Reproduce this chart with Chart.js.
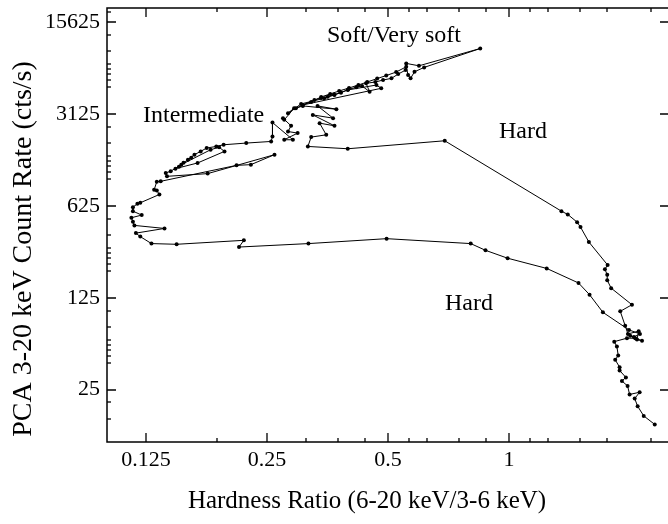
<!DOCTYPE html>
<html>
<head>
<meta charset="utf-8">
<script src="https://cdn.jsdelivr.net/npm/chart.js@4.4.1/dist/chart.umd.min.js"></script>
<style>
html, body { margin: 0; padding: 0; background: #fff; overflow: hidden; }
#hid { display: block; }
</style>
</head>
<body>
<canvas id="hid" width="676" height="524"></canvas>
<script>
// hardness ratio (6-20 keV / 3-6 keV), one value per observation, in time order
var hardness = [
  2.304, 2.163, 2.089, 2.054, 2.113, 1.995, 1.972, 1.909, 1.953, 1.884,
  1.884, 1.837, 1.869, 1.855, 1.827, 1.965, 2.060, 2.002, 2.142, 2.081,
  2.101, 1.976, 1.945, 1.891, 2.022, 1.795, 1.755, 1.755, 1.732, 1.759,
  1.580, 1.506, 1.477, 1.400, 1.350, 0.692, 0.397, 0.316, 0.322, 0.351,
  0.338, 0.368, 0.325, 0.365, 0.334, 0.372, 0.307,
  0.295, 0.328, 0.341, 0.354, 0.367, 0.382, 0.398, 0.417, 0.431, 0.450,
  0.441, 0.465, 0.486, 0.510, 0.530, 0.553, 0.555, 0.597, 0.848, 0.615,
  0.582, 0.569, 0.561, 0.555, 0.524, 0.495, 0.470, 0.444, 0.422, 0.400,
  0.378, 0.359, 0.341, 0.322, 0.307, 0.481, 0.468, 0.397, 0.368, 0.347, 0.304,
  0.282, 0.292, 0.276, 0.274, 0.287, 0.282, 0.298, 0.276, 0.290, 0.258,
  0.258, 0.256, 0.222, 0.195, 0.187, 0.177, 0.171, 0.165, 0.159,
  0.162, 0.155, 0.151, 0.148, 0.168, 0.196, 0.190, 0.181,
  0.153, 0.144, 0.140, 0.141, 0.178, 0.261, 0.228, 0.210, 0.136,
  0.133, 0.131, 0.133, 0.135, 0.121, 0.119, 0.116, 0.116, 0.122, 0.115,
  0.116, 0.117, 0.139, 0.118, 0.121, 0.129, 0.149, 0.219, 0.213, 0.317,
  0.496, 0.803, 0.874, 0.992, 1.241, 1.489, 1.586, 1.712, 1.988, 2.117, 2.045
];

// PCA 3-20 keV count rate (cts/s)
var countRate = [
  13.6, 15.8, 18.7, 21.4, 23.9, 23.0, 26.7, 29.1, 31.0, 35.0,
  37.1, 42.2, 45.5, 53.2, 58.0, 61.6, 61.6, 64.4, 58.8, 60.1,
  69.6, 66.4, 76.7, 98.6, 110.7, 148, 170, 187, 206, 222,
  332, 431, 470, 538, 570, 1955, 1700, 1770, 2085, 2170,
  2662, 2540, 3077, 2905, 3599, 3398, 3599,
  3457, 3996, 4138, 4233, 4398, 4538, 4800, 4987, 5100, 4617,
  5348, 5470, 5663, 5834, 6288, 6741, 7577, 7267, 9838, 7068,
  6545, 5834, 6180, 7143, 6513, 6127, 5813, 5470, 5190, 4927,
  4675, 4438, 4210, 3861, 3662, 4900, 5190, 4757, 4360, 4115, 3727,
  3170, 3457, 2820, 2905, 2540, 2299, 2236, 1990, 1990, 2690,
  2108, 1932, 1878, 1823, 1770, 1722, 1623, 1532, 1404,
  1454, 1332, 1242, 1200, 1325, 1623, 1746, 1671,
  1287, 1145, 1113, 1049, 1100, 1532, 1287, 1271, 961,
  955, 828, 818, 763, 660, 648, 611, 570, 532, 508,
  474, 444, 421, 388, 365, 323, 319, 342, 304, 323,
  352, 323, 287, 250, 209, 162, 132, 96.9, 71.2, 66.4, 63.0
];

var xMajor = [0.125, 0.25, 0.5, 1];
var xTickLabels = ['0.125', '0.25', '0.5', '1'];
var xMinor = [0.1875, 0.3125, 0.375, 0.4375, 0.5625, 0.625, 0.75, 0.875, 1.125, 1.25, 1.5, 1.75, 2.25];

var yMajor = [25, 125, 625, 3125, 15625];
var yTickLabels = ['25', '125', '625', '3125', '15625'];
var yMinor = [18750, 12500, 9375, 7500, 6875, 6250, 5625, 5000,
  2500, 1875, 1500, 1375, 1250, 1125, 1000,
  500, 375, 300, 275, 250, 225, 200,
  100, 75, 60, 55, 50, 45, 40,
  20, 15];

var serif = "'Liberation Serif', 'DejaVu Serif', serif";

var points = hardness.map(function (h, i) {
  return { x: h, y: countRate[i] };
});

// inward tick marks on all sides, plus the closed frame
var frameTicks = {
  id: 'frameTicks',
  afterDraw: function (chart) {
    var ctx = chart.ctx;
    var a = chart.chartArea;
    var xs = chart.scales.x;
    var ys = chart.scales.y;
    ctx.save();
    ctx.strokeStyle = '#000';
    ctx.lineWidth = 1.5;
    ctx.strokeRect(a.left, a.top, a.right - a.left, a.bottom - a.top);
    ctx.lineWidth = 1.3;
    xMajor.concat(xMinor).forEach(function (v) {
      var len = xMajor.indexOf(v) >= 0 ? 9 : 4;
      var px = Math.round(xs.getPixelForValue(v));
      ctx.beginPath();
      ctx.moveTo(px, a.bottom);
      ctx.lineTo(px, a.bottom - len);
      ctx.moveTo(px, a.top);
      ctx.lineTo(px, a.top + len);
      ctx.stroke();
    });
    yMajor.concat(yMinor).forEach(function (v) {
      var major = yMajor.indexOf(v) >= 0;
      var py = Math.round(ys.getPixelForValue(v));
      ctx.beginPath();
      ctx.moveTo(a.left, py);
      ctx.lineTo(a.left + (major ? 9 : 4), py);
      if (major) {
        ctx.moveTo(a.right, py);
        ctx.lineTo(a.right - 9, py);
      }
      ctx.stroke();
    });
    ctx.restore();
  }
};

// axis titles and state labels
var textLayer = {
  id: 'textLayer',
  afterDraw: function (chart) {
    var ctx = chart.ctx;
    ctx.save();
    ctx.fillStyle = '#000';
    ctx.textAlign = 'center';
    ctx.textBaseline = 'middle';
    ctx.font = '25px ' + serif;
    ctx.fillText('Hardness Ratio (6-20 keV/3-6 keV)', 367, 501);
    ctx.save();
    ctx.font = '28px ' + serif;
    ctx.translate(24, 249);
    ctx.rotate(-Math.PI / 2);
    ctx.fillText('PCA 3-20 keV Count Rate (cts/s)', 0, 0);
    ctx.restore();

    ctx.font = '24px ' + serif;
    ctx.textAlign = 'left';
    ctx.textBaseline = 'alphabetic';
    ctx.fillText('Soft/Very soft', 327, 41.5);
    ctx.fillText('Intermediate', 143, 122);
    ctx.fillText('Hard', 499, 138);
    ctx.fillText('Hard', 445, 310);
    ctx.restore();
  }
};

new Chart(document.getElementById('hid'), {
  type: 'scatter',
  data: {
    datasets: [{
      data: points,
      showLine: true,
      borderColor: '#000',
      borderWidth: 1,
      pointRadius: 2,
      pointBackgroundColor: '#000',
      pointBorderWidth: 0,
      tension: 0
    }]
  },
  options: {
    responsive: false,
    animation: false,
    devicePixelRatio: 1,
    layout: { padding: { top: 8, right: 7, left: 0, bottom: 0 } },
    plugins: {
      legend: { display: false },
      tooltip: { enabled: false }
    },
    scales: {
      x: {
        type: 'logarithmic',
        min: 0.1,
        max: 2.5,
        afterBuildTicks: function (scale) {
          scale.ticks = xMajor.map(function (v) { return { value: v }; });
        },
        afterFit: function (scale) {
          scale.height = 82;
          scale.paddingLeft = 0;
          scale.paddingRight = 0;
        },
        grid: { display: false, drawTicks: false },
        border: { display: false },
        ticks: {
          autoSkip: false,
          maxRotation: 0,
          padding: 5,
          color: '#000',
          font: { family: serif, size: 22 },
          callback: function (v) {
            var i = xMajor.indexOf(v);
            return i >= 0 ? xTickLabels[i] : '';
          }
        }
      },
      y: {
        type: 'logarithmic',
        min: 10,
        max: 20000,
        afterBuildTicks: function (scale) {
          scale.ticks = yMajor.map(function (v) { return { value: v }; });
        },
        afterFit: function (scale) {
          scale.width = 107;
          scale.paddingTop = 0;
          scale.paddingBottom = 0;
        },
        grid: { display: false, drawTicks: false },
        border: { display: false },
        ticks: {
          autoSkip: false,
          padding: 7,
          color: '#000',
          font: { family: serif, size: 22 },
          callback: function (v) {
            var i = yMajor.indexOf(v);
            return i >= 0 ? yTickLabels[i] : '';
          }
        }
      }
    }
  },
  plugins: [frameTicks, textLayer]
});
</script>
</body>
</html>
